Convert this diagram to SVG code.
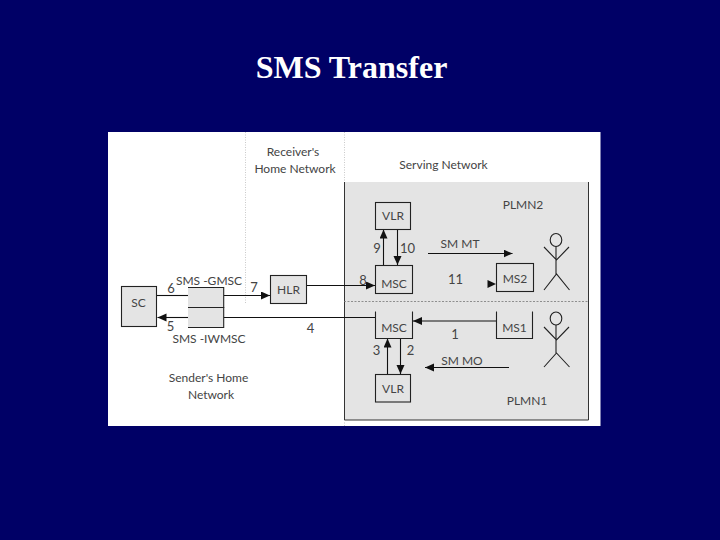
<svg xmlns="http://www.w3.org/2000/svg" width="720" height="540" viewBox="0 0 720 540">
<style>
.t{font-family:"Lato","Liberation Sans",sans-serif;font-size:12px;fill:#444;text-anchor:middle}
.n{font-size:13px}
.b{fill:#e4e4e4;stroke:#222;stroke-width:1.1}
.l{fill:none;stroke:#111;stroke-width:1.1}
.a{fill:none;stroke:#111;stroke-width:1.1;marker-end:url(#h)}
.d{fill:none;stroke:#bbb;stroke-width:.8;stroke-dasharray:1 1.5}
.s{fill:none;stroke:#222;stroke-width:1.1}
</style>
<defs><marker id="h" markerUnits="userSpaceOnUse" markerWidth="10" markerHeight="10" refX="9" refY="4" orient="auto"><path d="M0 0L9 4L0 8Z" fill="#111"/></marker></defs>
<rect width="720" height="540" fill="#000066"/>
<text x="351.500" y="78" font-family="Liberation Serif,serif" font-size="32" font-weight="bold" fill="#fff" text-anchor="middle">SMS Transfer</text>
<rect x="108" y="132" width="492.500" height="294" fill="#fff"/>
<g id="serving-network">
<rect x="344.500" y="182" width="244" height="238" fill="#e4e4e4"/>
<path d="M344.500 182V420H588.500V182" fill="none" stroke="#333" stroke-width="1"/>
<text class="t" x="443.500" y="169">Serving Network</text>
<text class="t" x="523" y="209">PLMN2</text>
<text class="t" x="527" y="405">PLMN1</text>
</g>
<g id="boundaries">
<path class="d" d="M245.500 132V304M344.500 132V182M344.500 420V426"/>
<path d="M344 301.500H588" fill="none" stroke="#777" stroke-width=".8" stroke-dasharray="2 1.500"/>
</g>
<text class="t" x="293" y="156">Receiver's</text>
<text class="t" x="295" y="173">Home Network</text>
<text class="t" x="208.500" y="382">Sender's Home</text>
<text class="t" x="211" y="399">Network</text>
<g id="connectors">
<path class="l" d="M156.700 295.500H188"/>
<path class="a" d="M223.700 295.500H270"/>
<path class="a" d="M306.700 285.500H375"/>
<path class="l" d="M375 317.500H223.700"/>
<path class="a" d="M188 317.500H157.500"/>
<path class="a" d="M383.500 265V229.500"/>
<path class="a" d="M397.500 229.500V265"/>
<path class="a" d="M400.500 338.500V374"/>
<path class="a" d="M387.500 374V338.500"/>
<path class="a" d="M496.500 321H413"/>
<path class="a" d="M428 253.500H512.500"/>
<path class="a" d="M509 367.500H425"/>
<path d="M487.500 280L496 284L487.500 288Z" fill="#111"/>
</g>
<g id="SC"><rect class="b" x="121.500" y="286.500" width="35" height="40"/><text class="t" x="138.500" y="307">SC</text></g>
<g id="SMS-GMSC"><path class="b" d="M188 287.500H223.700V307.500H188"/><text class="t" x="209" y="285">SMS -GMSC</text><text x="171" y="293" class="t n">6</text></g>
<g id="SMS-IWMSC"><path class="b" d="M188 307.500H223.700V327.500H188"/><text class="t" x="209" y="343">SMS -IWMSC</text><text x="170.500" y="331" class="t n">5</text></g>
<g id="HLR"><rect class="b" x="270.500" y="275.500" width="36" height="28"/><text class="t" x="288.500" y="294">HLR</text></g>
<g id="VLR-top"><rect class="b" x="375.500" y="202.500" width="35" height="27"/><text class="t" x="393" y="220">VLR</text></g>
<g id="MSC-top"><rect class="b" x="375.500" y="265.500" width="37" height="28"/><text class="t" x="394" y="288">MSC</text></g>
<g id="MSC-bottom"><path class="b" d="M375.500 311.500V338.500H412.500V311.500"/><text class="t" x="394" y="332">MSC</text></g>
<g id="VLR-bottom"><rect class="b" x="375.500" y="374.500" width="35" height="27.500"/><text class="t" x="393" y="393">VLR</text></g>
<g id="MS2"><rect class="b" x="496.500" y="263.500" width="37" height="28"/><text class="t" x="515" y="283">MS2</text></g>
<g id="MS1"><path class="b" d="M496.500 311.500V338.500H532.500V311.500"/><text class="t" x="514.500" y="332">MS1</text></g>
<g id="user2"><ellipse class="s" cx="556" cy="240" rx="5.800" ry="6.500"/><path class="s" d="M556 246.500V274M544 247L556.500 260L569 247M544 290L556.500 274L569.500 290"/></g>
<g id="user1"><ellipse class="s" cx="556" cy="318.500" rx="5.800" ry="6.500"/><path class="s" d="M556 325V353M544 327L556.500 340L569 327M544 367L556.500 353L569.500 367"/></g>
<g id="labels">
<text class="t n" x="254" y="292">7</text>
<text class="t n" x="310.500" y="333">4</text>
<text class="t n" x="363" y="285">8</text>
<text class="t n" x="377" y="253">9</text>
<text class="t n" x="407.500" y="253">10</text>
<text class="t n" x="455.500" y="284">11</text>
<text class="t n" x="455" y="339">1</text>
<text class="t n" x="376.500" y="355">3</text>
<text class="t n" x="410.500" y="355">2</text>
<text class="t" x="460" y="248">SM MT</text>
<text class="t" x="462" y="365">SM MO</text>
</g>
</svg>
